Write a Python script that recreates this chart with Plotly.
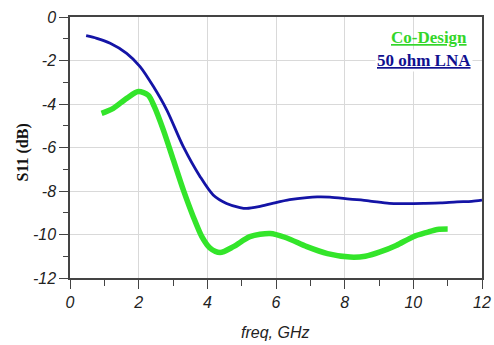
import plotly.graph_objects as go

# 50 ohm LNA (blue)
lna_freq = [0.47, 0.78, 1.17, 1.65, 2.04, 2.43, 2.82, 3.3, 3.79, 4.17, 4.56, 4.95, 5.15, 5.5, 5.9, 6.4, 6.9, 7.2, 7.57, 8.15, 8.7, 9.3, 9.8, 10.3, 10.8, 11.27, 11.7, 12.0]
lna_s11 = [-0.86, -0.98, -1.21, -1.67, -2.28, -3.2, -4.28, -5.96, -7.34, -8.18, -8.57, -8.76, -8.8, -8.72, -8.57, -8.4, -8.3, -8.27, -8.28, -8.37, -8.45, -8.57, -8.58, -8.57, -8.55, -8.5, -8.48, -8.42]

# Co-Design (green)
co_freq = [0.92, 1.26, 1.65, 1.99, 2.28, 2.45, 2.72, 3.01, 3.3, 3.59, 3.84, 4.08, 4.37, 4.76, 5.24, 5.83, 6.3, 6.9, 7.5, 8.16, 8.6, 9.03, 9.5, 10.0, 10.4, 10.7, 11.0]
co_s11 = [-4.43, -4.2, -3.74, -3.43, -3.6, -4.1, -5.2, -6.57, -7.95, -9.18, -10.1, -10.63, -10.83, -10.56, -10.1, -9.95, -10.15, -10.56, -10.88, -11.04, -11.0, -10.8, -10.5, -10.1, -9.9, -9.77, -9.75]

x_ticks = [0, 2, 4, 6, 8, 10, 12]
y_ticks = [0, -2, -4, -6, -8, -10, -12]

fig = go.Figure()
fig.add_trace(go.Scatter(x=lna_freq, y=lna_s11, mode="lines", name="50 ohm LNA",
                         line=dict(color="#1414a6", width=2.8, shape="spline", smoothing=0.8)))
fig.add_trace(go.Scatter(x=co_freq, y=co_s11, mode="lines", name="Co-Design",
                         line=dict(color="#33e52a", width=5.5, shape="spline", smoothing=0.8)))

axis_common = dict(
    showline=True, linecolor="#444444", linewidth=1.5, mirror=True,
    showgrid=True, gridcolor="#d9d9d9", gridwidth=1.2,
    zeroline=False, automargin=False,
    ticks="outside", ticklen=9, tickcolor="#444444", tickwidth=1.2,
    tickfont=dict(family="Liberation Sans", size=16, color="#222222", style="italic"),
)

fig.update_layout(
    width=494, height=345,
    margin=dict(l=70, r=12, t=17, b=67),
    plot_bgcolor="white", paper_bgcolor="white",
    showlegend=False,
    xaxis=dict(range=[0, 12], tickvals=x_ticks, ticktext=[str(v) for v in x_ticks],
               minor=dict(ticks="outside", dtick=1, tick0=1, ticklen=6, tickcolor="#444444", showgrid=False),
               **axis_common),
    yaxis=dict(range=[-12, 0], tickvals=y_ticks, ticktext=[str(v) for v in y_ticks],
               minor=dict(ticks="outside", dtick=1, tick0=-1, ticklen=5, tickcolor="#444444", showgrid=False),
               **axis_common),
    annotations=[
        dict(text="freq, GHz", x=0.5, y=0, xref="paper", yref="paper",
             xanchor="center", yanchor="middle", yshift=-54, xshift=-1, showarrow=False,
             font=dict(family="Liberation Sans", size=16, color="#222222", style="italic")),
        dict(text="<b>S11 (dB)</b>", x=0, y=0.5, xref="paper", yref="paper", textangle=-90,
             xanchor="center", yanchor="middle", xshift=-48, yshift=-5, showarrow=False,
             font=dict(family="Liberation Serif", size=16, color="#111111")),
        dict(text="<b><u>Co-Design</u></b>", x=0.968, y=0.92, xref="paper", yref="paper",
             xanchor="right", yanchor="middle", showarrow=False,
             font=dict(family="Liberation Serif", size=17, color="#33d62a")),
        dict(text="<b><u>50 ohm LNA</u></b>", x=0.977, y=0.835, xref="paper", yref="paper",
             xanchor="right", yanchor="middle", showarrow=False, bgcolor="white",
             font=dict(family="Liberation Serif", size=17, color="#10108f")),
    ],
)

fig.write_html("out.html", config={"displayModeBar": False},
               post_script="document.body.style.margin='0';document.body.style.overflow='hidden';")
